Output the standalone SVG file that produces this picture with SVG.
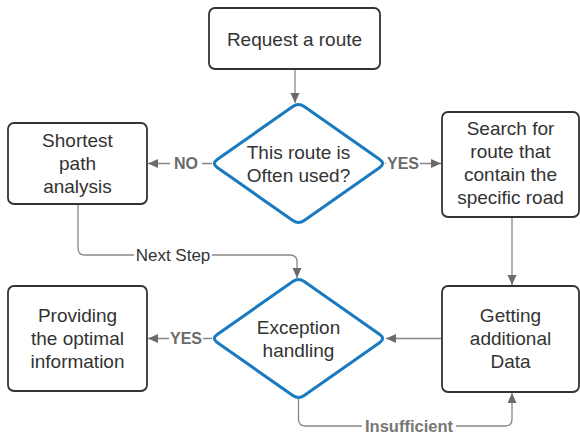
<svg xmlns="http://www.w3.org/2000/svg" width="580" height="434" viewBox="0 0 580 434">
<style>
.box{fill:#fff;stroke:#333;stroke-width:1.8}
.dia{fill:#fff;stroke:#1a7abf;stroke-width:3}
.t{font-family:"Liberation Sans",Arial,sans-serif;font-size:19px;fill:#333;text-anchor:middle}
.c{fill:none;stroke:#888;stroke-width:1.3}
.lb{font-family:"Liberation Sans",Arial,sans-serif;font-size:16px;font-weight:bold;fill:#6b6b6b;text-anchor:middle}
.ln{font-family:"Liberation Sans",Arial,sans-serif;font-size:17px;fill:#333;text-anchor:middle}
.bg{fill:#fff}
</style>
<defs>
<marker id="ah" markerUnits="userSpaceOnUse" markerWidth="11" markerHeight="10" refX="10" refY="4.5" orient="auto">
<path d="M0,0 L10,4.5 L0,9 z" fill="#6b6b6b"/>
</marker>
</defs>
<g id="connectors">
<path class="c" d="M295,69 V103" marker-end="url(#ah)"/>
<path class="c" d="M212,163.5 H148" marker-end="url(#ah)"/>
<path class="c" d="M385,163.5 H441" marker-end="url(#ah)"/>
<path class="c" d="M512,217 V285" marker-end="url(#ah)"/>
<path class="c" d="M442,338.5 H386" marker-end="url(#ah)"/>
<path class="c" d="M212,338.5 H148" marker-end="url(#ah)"/>
<path class="c" d="M78,204 V248 Q78,255 85,255 H290 Q297,255 297,262 V278" marker-end="url(#ah)"/>
<path class="c" d="M298.5,399 V419 Q298.5,426 305.5,426 H505 Q512,426 512,419 V393" marker-end="url(#ah)"/>
<rect class="bg" x="170" y="154" width="32" height="18"/>
<text class="lb" x="186" y="169">NO</text>
<rect class="bg" x="386" y="154" width="34" height="18"/>
<text class="lb" x="403" y="169">YES</text>
<rect class="bg" x="169" y="329" width="34" height="18"/>
<text class="lb" x="186" y="344">YES</text>
<rect class="bg" x="134" y="246" width="78" height="18"/>
<text class="ln" x="173" y="261">Next Step</text>
<rect class="bg" x="362" y="418" width="94" height="16"/>
<text class="lb" x="409" y="431.5" style="font-size:16.5px;fill:#777">Insufficient</text>
</g>
<g id="request">
<rect class="box" x="209" y="8" width="171" height="61" rx="6"/>
<text class="t" x="294.5" y="46">Request a route</text>
</g>
<g id="decision1">
<path class="dia" d="M292.8,106.5 Q298.5,102.5 304.2,106.5 L379.8,159.5 Q385.5,163.5 379.8,167.5 L304.2,220.5 Q298.5,224.5 292.8,220.5 L217.2,167.5 Q211.5,163.5 217.2,159.5 Z"/>
<text class="t" x="298.5" y="159">This route is</text>
<text class="t" x="298.5" y="182">Often used?</text>
</g>
<g id="shortest">
<rect class="box" x="8" y="123" width="139" height="81" rx="6"/>
<text class="t" x="77.5" y="147">Shortest</text>
<text class="t" x="77.5" y="170">path</text>
<text class="t" x="77.5" y="193">analysis</text>
</g>
<g id="search">
<rect class="box" x="442" y="112" width="137" height="105" rx="6"/>
<text class="t" x="510.5" y="135">Search for</text>
<text class="t" x="510.5" y="158">route that</text>
<text class="t" x="510.5" y="181">contain the</text>
<text class="t" x="510.5" y="204">specific road</text>
</g>
<g id="getting">
<rect class="box" x="442" y="286" width="137" height="106" rx="6"/>
<text class="t" x="510.5" y="322">Getting</text>
<text class="t" x="510.5" y="345">additional</text>
<text class="t" x="510.5" y="368">Data</text>
</g>
<g id="decision2">
<path class="dia" d="M292.8,281.5 Q298.5,277.5 304.2,281.5 L379.8,334.5 Q385.5,338.5 379.8,342.5 L304.2,395.5 Q298.5,399.5 292.8,395.5 L217.2,342.5 Q211.5,338.5 217.2,334.5 Z"/>
<text class="t" x="298.5" y="334">Exception</text>
<text class="t" x="298.5" y="357">handling</text>
</g>
<g id="providing">
<rect class="box" x="8" y="286" width="139" height="105" rx="6"/>
<text class="t" x="77.5" y="322">Providing</text>
<text class="t" x="77.5" y="345">the optimal</text>
<text class="t" x="77.5" y="368">information</text>
</g>
</svg>
